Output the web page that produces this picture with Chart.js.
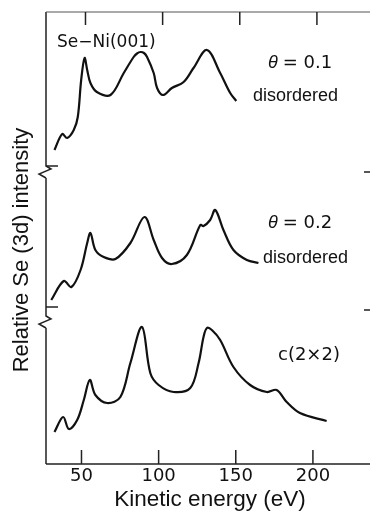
<!DOCTYPE html>
<html>
<head>
<meta charset="utf-8">
<script src="https://cdn.jsdelivr.net/npm/chart.js@4"></script>
<style>
  body { margin: 0; background: #fff; }
  canvas { display: block; }
</style>
</head>
<body>
<canvas id="augerChart" width="370" height="512"></canvas>
<script>
// Kinetic energy (eV) and relative intensity (arbitrary units)
const energy1 = [32.5, 37.5, 40.7, 45, 47.6, 49.8, 52, 53.7, 55.8, 60, 68.8, 77.4, 83.8, 86, 88.2, 90.5, 92.5, 96.8, 99, 102.8, 108.6, 116.2, 122.6, 131.3, 139.9, 146.4, 150.3];
const intensity1 = [16, 32, 28, 36, 49, 86, 108, 96, 83, 74, 71, 93, 109, 112.5, 114, 113, 109, 93, 78, 71, 78, 84, 98, 116, 93, 73, 65];

const energy2 = [30.4, 38.5, 43.5, 49.4, 53.7, 55.8, 59, 64.4, 72, 81.7, 90.8, 96.8, 102.2, 108.6, 118.3, 127, 129.1, 133.4, 136.7, 142, 148.5, 157.2, 164.7];
const intensity2 = [7, 26, 20, 37, 64, 74, 57, 50, 48, 64, 90, 67, 49, 43, 52, 82, 81, 87, 97, 77, 57, 47, 44];

const energy3 = [32.5, 38.1, 41.8, 47.2, 51.5, 55.4, 59, 66.6, 75.2, 81.7, 89.2, 94.6, 100, 109.7, 120.5, 125.9, 129.1, 131.3, 134.5, 139.9, 148.5, 159.3, 170.1, 176.5, 183, 191.6, 208.9];
const intensity3 = [32, 47, 35, 44, 64, 84, 69, 61, 67, 101, 137, 91, 79, 72, 76, 101, 127, 136, 134, 124, 97, 79, 72, 74, 62, 51, 43];

// vertical offsets of the three stacked spectra (baselines)
const offsets = [298, 157, 0];
const xTicks = [50, 100, 150, 200];
const breakValues = [292, 142];
const rightMarks = [292, 154];

function toPoints(xs, ys, off) {
    return xs.map(function(x, i) { return { x: x, y: ys[i] + off }; });
}

// Plugin drawing the frame, ticks, axis breaks and annotations
const framePlugin = {
    id: 'frame',
    afterDraw: function(chart) {
        const ctx = chart.ctx;
        const xs = chart.scales.x;
        const ys = chart.scales.y;
        const area = chart.chartArea;
        const left = area.left, top = area.top, bottom = area.bottom, right = area.right;

        ctx.save();
        ctx.strokeStyle = '#222';
        ctx.lineWidth = 1.5;

        // left axis with breaks
        const breaks = breakValues.map(function(v) { return ys.getPixelForValue(v); }).sort(function(a, b) { return a - b; });
        ctx.beginPath();
        let yStart = top;
        breaks.forEach(function(by) {
            ctx.moveTo(left, yStart);
            ctx.lineTo(left, by - 6);
            ctx.lineTo(left + 5, by - 3);
            ctx.lineTo(left - 7, by + 2);
            ctx.lineTo(left, by + 6);
            yStart = by + 6;
        });
        ctx.moveTo(left, yStart);
        ctx.lineTo(left, bottom);
        // bottom axis
        ctx.moveTo(left, bottom);
        ctx.lineTo(right, bottom);
        ctx.stroke();

        // top border
        ctx.strokeStyle = '#555';
        ctx.lineWidth = 1.2;
        ctx.beginPath();
        ctx.moveTo(left, top);
        ctx.lineTo(right, top);
        ctx.stroke();

        // ticks (inward)
        ctx.strokeStyle = '#222';
        ctx.lineWidth = 1.5;
        ctx.beginPath();
        xTicks.forEach(function(t) {
            const px = xs.getPixelForValue(t);
            ctx.moveTo(px, bottom);
            ctx.lineTo(px, bottom - 14);
            ctx.moveTo(px + 4, top);
            ctx.lineTo(px + 4, top + 13);
        });
        // baseline markers on the left
        offsets.slice(0, 2).forEach(function(o) {
            const py = ys.getPixelForValue(o);
            ctx.moveTo(left, py);
            ctx.lineTo(left + 12, py);
        });
        // short marks on the right edge
        rightMarks.forEach(function(v) {
            const py = ys.getPixelForValue(v);
            ctx.moveTo(right - 6, py);
            ctx.lineTo(right, py);
        });
        ctx.stroke();

        // tick labels
        ctx.fillStyle = '#111';
        ctx.font = '18px "DejaVu Sans", sans-serif';
        ctx.textAlign = 'center';
        ctx.textBaseline = 'middle';
        xTicks.forEach(function(t) {
            ctx.fillText(String(t), xs.getPixelForValue(t), bottom + 12);
        });

        // axis titles
        ctx.font = '22.5px "Liberation Sans", Arial, sans-serif';
        ctx.fillText('Kinetic energy (eV)', 210, 500);
        ctx.save();
        ctx.translate(22, 250);
        ctx.rotate(-Math.PI / 2);
        ctx.font = '22px "Liberation Sans", Arial, sans-serif';
        ctx.fillText('Relative Se (3d) intensity', 0, 0);
        ctx.restore();

        // annotations
        ctx.textAlign = 'left';
        ctx.font = '17px "DejaVu Sans", sans-serif';
        ctx.fillText('Se\u2212Ni(001)', 57, 43);
        ctx.font = '18px "Liberation Sans", Arial, sans-serif';
        ctx.fillText('disordered', 253, 96);
        ctx.fillText('disordered', 263, 258);
        ctx.font = '18px "DejaVu Sans", sans-serif';
        ctx.fillText('c(2\u00d72)', 278, 355);

        function theta(label, x, y) {
            ctx.font = 'italic 18px "Liberation Sans", Arial, sans-serif';
            ctx.fillText('\u03b8', x, y);
            const w = ctx.measureText('\u03b8').width;
            ctx.font = '18px "DejaVu Sans", sans-serif';
            ctx.fillText(label, x + w + 5, y);
        }
        theta('= 0.1', 268, 63);
        theta('= 0.2', 268, 223);
        ctx.restore();
    }
};

const lineStyle = {
    borderColor: '#111',
    borderWidth: 2.2,
    pointRadius: 0,
    fill: false,
    tension: 0.35
};

new Chart(document.getElementById('augerChart').getContext('2d'), {
    type: 'line',
    data: {
        datasets: [
            Object.assign({ label: 'theta = 0.1', data: toPoints(energy1, intensity1, offsets[0]) }, lineStyle),
            Object.assign({ label: 'theta = 0.2', data: toPoints(energy2, intensity2, offsets[1]) }, lineStyle),
            Object.assign({ label: 'c(2x2)', data: toPoints(energy3, intensity3, offsets[2]) }, lineStyle)
        ]
    },
    options: {
        responsive: false,
        animation: false,
        layout: { padding: { left: 46, top: 12, right: 0, bottom: 48 } },
        plugins: {
            legend: { display: false },
            tooltip: { enabled: false }
        },
        scales: {
            x: { type: 'linear', min: 27, max: 237, display: false },
            y: { type: 'linear', min: 0, max: 452, display: false }
        }
    },
    plugins: [framePlugin]
});
</script>
</body>
</html>
